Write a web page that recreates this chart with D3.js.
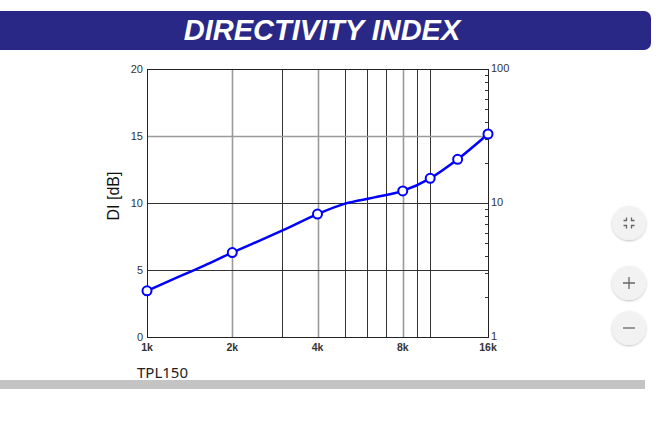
<!DOCTYPE html>
<html><head><meta charset="utf-8">
<script src="https://cdn.jsdelivr.net/npm/d3@7"></script>
<style>body{margin:0;background:#fff;overflow:hidden}svg{display:block}</style>
</head><body>
<svg id="c" width="656" height="448"></svg>
<script>
const title = "DIRECTIVITY INDEX";
const yLabel = "DI [dB]";
const productName = "TPL150";
const freqs = [1000,1250,1600,2000,2500,3150,4000,5000,6300,8000,10000,12500,16000];
const diValues = [3.45,4.35,5.35,6.3,7.2,8.15,9.17,9.95,10.4,10.9,11.84,13.26,15.15];
const markerFreqs = [1000,2000,4000,8000,10000,12500,16000];
const xTickValues = [1000,2000,4000,8000,16000];
const xTickLabels = ["1k","2k","4k","8k","16k"];
const xGridValues = [2000,3000,4000,5000,6000,7000,8000,9000,10000];
const xGridGray = [2000,4000,8000];
const yTicks = [0,5,10,15,20];
const yGridGray = [15];
const rightTicks = [1,10,100];
const rightMinor = [2,3,4,5,6,7,8,9,20,30,40,50,60,70,80,90];

const svg = d3.select("#c");
const L=147, R=488, T=69, B=337;
const x = d3.scaleLog().domain([1000,16000]).range([L,R]);
const y = d3.scaleLinear().domain([0,20]).range([B,T]);
const y2 = d3.scaleLog().domain([1,100]).range([B,T]);

// banner
svg.append("rect").attr("x",-12).attr("y",11).attr("width",663).attr("height",39).attr("rx",7).attr("fill","#2a2886");
svg.append("text").attr("x",322).attr("y",40).attr("text-anchor","middle")
  .attr("font-family","Liberation Sans, Arial, sans-serif").attr("font-weight","bold").attr("font-style","italic")
  .attr("font-size",29).attr("fill","#fff").text(title);

// grid
const g = svg.append("g");
xGridValues.forEach(f=>{
  const gray = xGridGray.includes(f);
  g.append("line").attr("x1",Math.round(x(f))+0.5).attr("x2",Math.round(x(f))+0.5).attr("y1",T).attr("y2",B)
    .attr("stroke",gray?"#9a9a9a":"#333").attr("stroke-width",gray?1.6:1);
});
yTicks.slice(1,-1).forEach(v=>{
  const gray = yGridGray.includes(v);
  g.append("line").attr("x1",L).attr("x2",R).attr("y1",Math.round(y(v))+0.5).attr("y2",Math.round(y(v))+0.5)
    .attr("stroke",gray?"#9a9a9a":"#333").attr("stroke-width",gray?1.6:1);
});
// frame
svg.append("rect").attr("x",L+0.5).attr("y",T+0.5).attr("width",R-L).attr("height",B-T)
  .attr("fill","none").attr("stroke","#222").attr("stroke-width",1);

// left axis labels
const fontT = "Liberation Sans, Arial, sans-serif";
yTicks.forEach(v=>{
  svg.append("text").attr("x",143).attr("y",y(v)+4).attr("text-anchor","end")
    .attr("font-family",fontT).attr("font-size",11).attr("fill","#333").text(v);
});
// right axis
rightMinor.forEach(v=>{
  svg.append("line").attr("x1",R-3).attr("x2",R).attr("y1",Math.round(y2(v))+0.5).attr("y2",Math.round(y2(v))+0.5)
    .attr("stroke","#333").attr("stroke-width",1);
});
rightTicks.forEach(v=>{
  svg.append("text").attr("x",R+3).attr("y",y2(v)+3).attr("text-anchor","start")
    .attr("font-family",fontT).attr("font-size",11).attr("fill","#333").text(v);
});
// x labels
xTickValues.forEach((f,i)=>{
  svg.append("text").attr("x",x(f)).attr("y",351).attr("text-anchor","middle")
    .attr("font-family",fontT).attr("font-weight","bold").attr("font-size",10.5).attr("fill","#333").text(xTickLabels[i]);
});
// y label
svg.append("text").attr("transform","translate(119,196) rotate(-90)").attr("text-anchor","middle")
  .attr("font-family",fontT).attr("font-size",16).attr("fill","#111").text(yLabel);

// data line
const data = freqs.map((f,i)=>({f,v:diValues[i]}));
svg.append("path").datum(data)
  .attr("d",d3.line().x(d=>x(d.f)).y(d=>y(d.v)).curve(d3.curveMonotoneX))
  .attr("fill","none").attr("stroke","#0000ff").attr("stroke-width",2.5).attr("stroke-linejoin","round");
svg.selectAll("circle.m").data(data.filter(d=>markerFreqs.includes(d.f))).enter().append("circle")
  .attr("class","m").attr("cx",d=>x(d.f)).attr("cy",d=>y(d.v)).attr("r",4.5)
  .attr("fill","#fff").attr("stroke","#0000ff").attr("stroke-width",2);

// product name
svg.append("text").attr("x",137).attr("y",378).attr("font-family","Noto Sans, Open Sans, sans-serif")
  .attr("font-size",15).attr("fill","#222").text(productName);
// bottom bar
svg.append("rect").attr("x",0).attr("y",380).attr("width",645).attr("height",9).attr("fill","#c4c4c4");

// buttons
const defs = svg.append("defs");
const flt = defs.append("filter").attr("id","sh").attr("x","-50%").attr("y","-50%").attr("width","200%").attr("height","200%");
flt.append("feDropShadow").attr("dx",0).attr("dy",1).attr("stdDeviation",1.2).attr("flood-color","#000").attr("flood-opacity",0.25);
const btnY=[223,283,328];
btnY.forEach(cy=>{
  svg.append("circle").attr("cx",629).attr("cy",cy).attr("r",17).attr("fill","#f2f2f2").attr("filter","url(#sh)");
});
const ic = svg.append("g").attr("stroke","#666").attr("stroke-width",1.3).attr("fill","none");
[[-1,-1],[1,-1],[-1,1],[1,1]].forEach(([sx,sy])=>{
  const cx=629+sx*2.5, cy=223+sy*2.5;
  ic.append("path").attr("d",`M${cx+sx*3},${cy} L${cx},${cy} L${cx},${cy+sy*3}`);
});
ic.append("path").attr("d","M623,283 H635 M629,277 V289");
ic.append("path").attr("d","M623,328 H635");
</script>
</body></html>
